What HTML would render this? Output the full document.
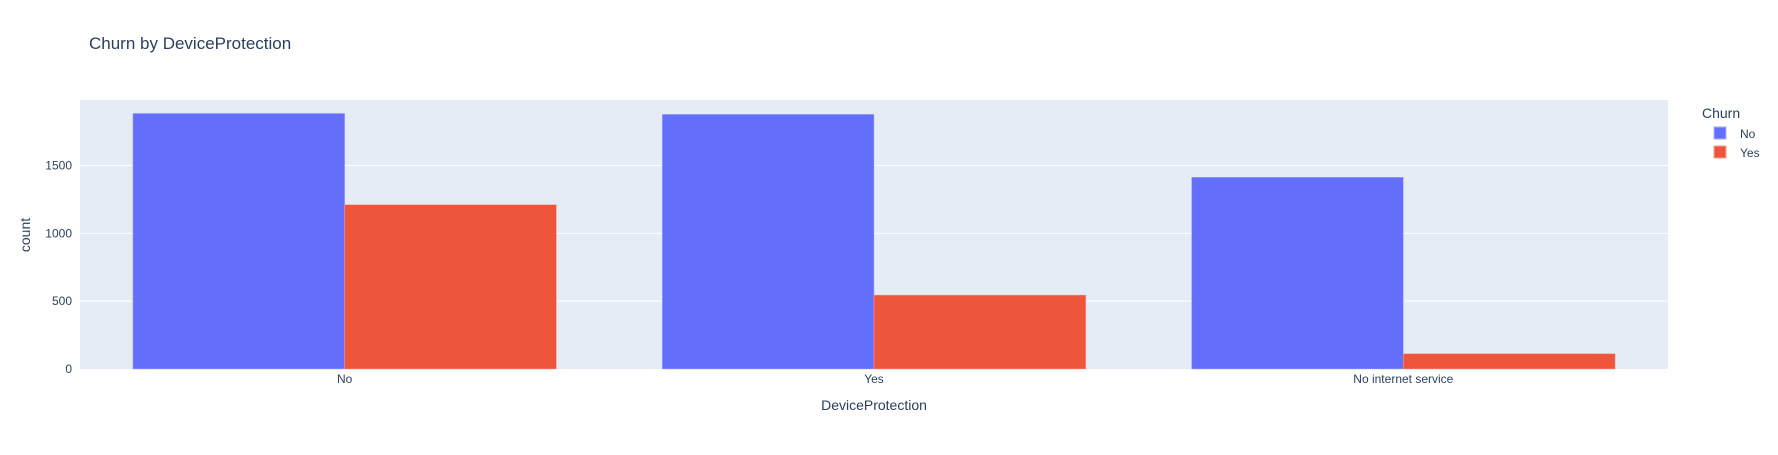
<!DOCTYPE html>
<html><head><meta charset="utf-8"><style>
body{margin:0;background:#fff}
svg text{font-family:"Liberation Sans",sans-serif;fill:#2a3f5f}
</style></head><body>
<svg width="1778" height="450" xmlns="http://www.w3.org/2000/svg">
<text x="89" y="49" font-size="17">Churn by DeviceProtection</text>
<rect x="80" y="100" width="1588" height="269" fill="#e5ecf6"/>
<g id="grid"></g>
<g id="bars"></g>
<g id="ticks"></g>
<text x="874" y="410" font-size="14" text-anchor="middle">DeviceProtection</text>
<text transform="translate(30,235) rotate(-90)" font-size="14" text-anchor="middle">count</text>
<g>
<text x="1702" y="118" font-size="14">Churn</text>
<g><rect x="1714" y="127" width="12" height="12" fill="#636efa" stroke="#aab0fc"/><text x="1740" y="138" font-size="12">No</text></g>
<g><rect x="1714" y="146" width="12" height="12" fill="#ef553b" stroke="#f5a091"/><text x="1740" y="157" font-size="12">Yes</text></g>
</g>
</svg>
<script>
const categories=["No","Yes","No internet service"];
const churnNo=[1884,1877,1413];
const churnYes=[1211,545,113];
const yTicks=[0,500,1000,1500];
const NS="http://www.w3.org/2000/svg";
const X0=80,X1=1668,Y0=369,Y1=100,YMAX=1983;
const y=v=>Y0-(v/YMAX)*(Y0-Y1);
const bw=(X1-X0)/categories.length;
const xc=i=>X0+bw*(i+0.5);
function mk(t,a){const e=document.createElementNS(NS,t);for(const k in a)e.setAttribute(k,a[k]);return e;}
const grid=document.getElementById('grid'),bars=document.getElementById('bars'),ticks=document.getElementById('ticks');
yTicks.forEach(v=>{
 if(v>0){const l=mk('line',{x1:X0,x2:X1,y1:y(v),y2:y(v),stroke:'#fff','stroke-width':1});
 
 
 grid.appendChild(l);}
 const t=mk('text',{x:X0-8,y:y(v)+4,'font-size':12,'text-anchor':'end'});t.textContent=v;
 
 
 ticks.appendChild(t);
});
categories.forEach((c,i)=>{
 const w=bw*0.4;
 const a=mk('rect',{x:xc(i)-w,y:y(churnNo[i]),width:w,height:Y0-y(churnNo[i]),fill:'#636efa',stroke:'#aab0fc','stroke-width':0.5});
 
 
 bars.appendChild(a);
 const b=mk('rect',{x:xc(i),y:y(churnYes[i]),width:w,height:Y0-y(churnYes[i]),fill:'#ef553b',stroke:'#f5a091','stroke-width':0.5});
 
 
 bars.appendChild(b);
 const t=mk('text',{x:xc(i),y:383,'font-size':12,'text-anchor':'middle'});t.textContent=c;
 
 
 ticks.appendChild(t);
});
</script>
</body></html>
